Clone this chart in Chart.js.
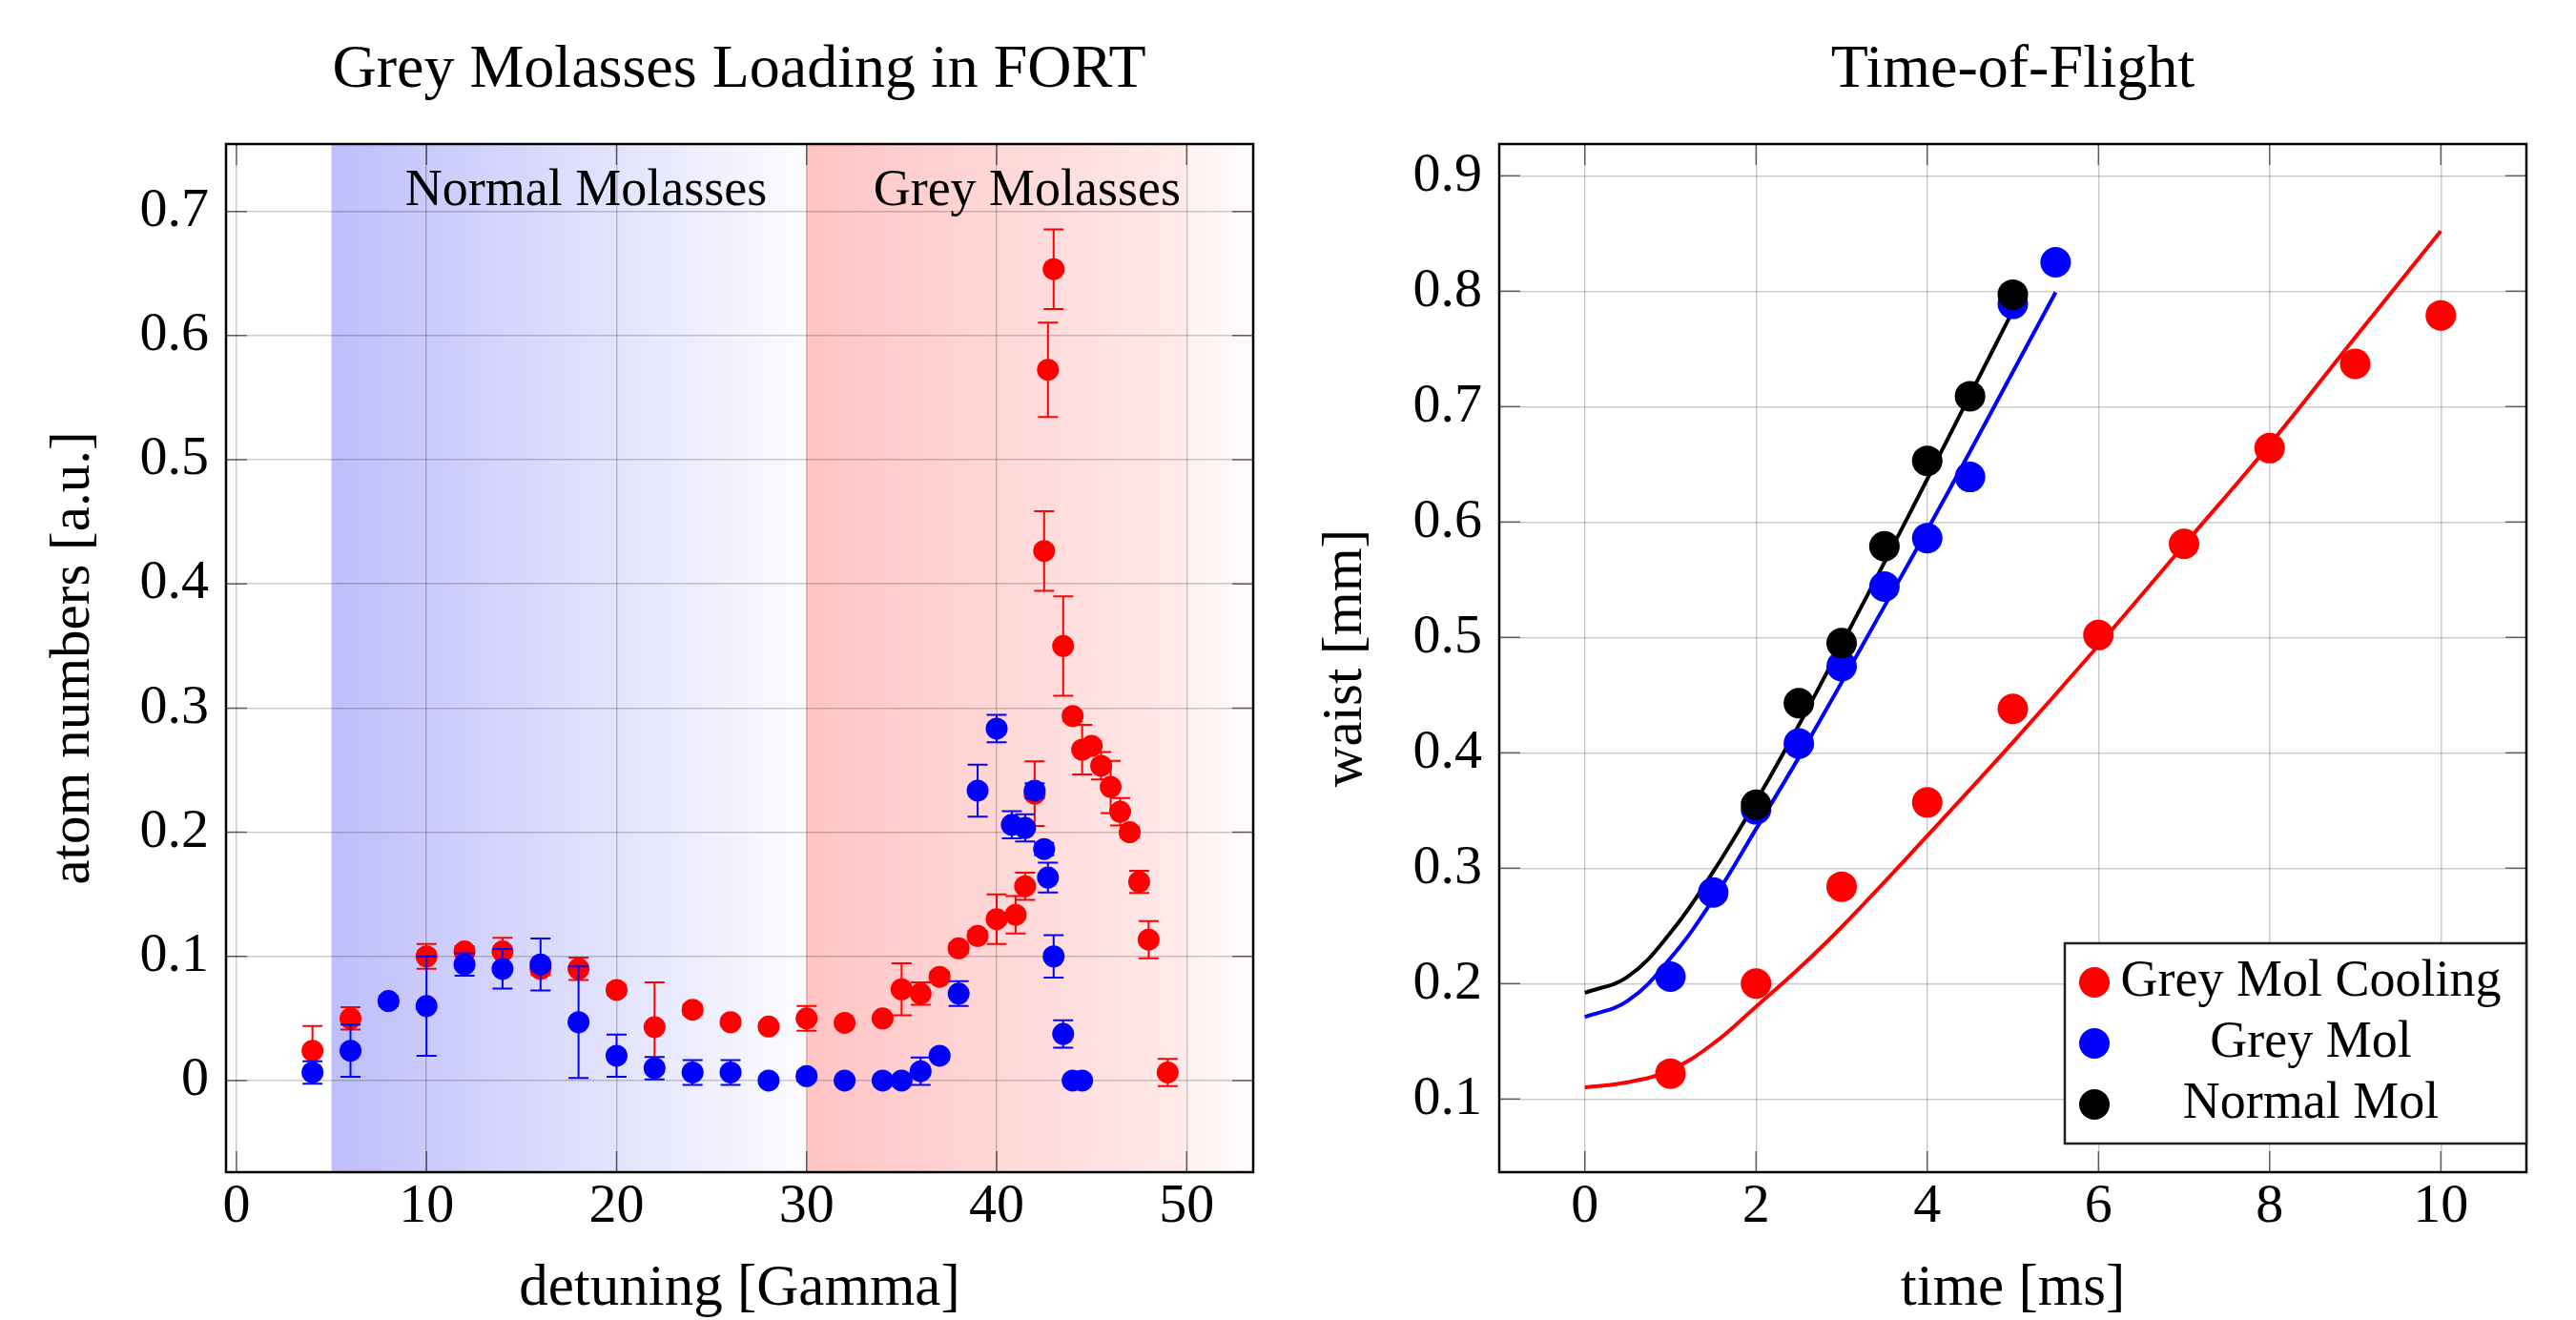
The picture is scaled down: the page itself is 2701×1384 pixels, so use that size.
<!DOCTYPE html>
<html><head><meta charset="utf-8">
<script src="https://cdn.jsdelivr.net/npm/chart.js@4.4.1/dist/chart.umd.min.js"></script>
<style>
html,body{margin:0;padding:0;background:#fff;overflow:hidden;width:2701px;height:1384px;position:relative;}
canvas{position:absolute;top:0;}
#c1{left:0;}
#c2{left:1300px;}
</style></head><body>
<canvas id="c1" width="1550" height="1384"></canvas>
<canvas id="c2" width="1621" height="1384"></canvas>
<script>
// ---------- Left chart data: Grey Molasses Loading in FORT ----------
const detuningRed = [4,6,10,12,14,16,18,20,22,24,26,28,30,32,34,35,36,37,38,39,40,41,41.5,42,42.5,42.7,43,43.5,44,44.5,45,45.5,46,46.5,47,47.5,48,49];
const atomsRed    = [0.024,0.050,0.100,0.104,0.104,0.090,0.090,0.073,0.043,0.057,0.047,0.0435,0.050,0.0465,0.050,0.0735,0.070,0.0835,0.1065,0.1165,0.130,0.1335,0.1565,0.231,0.4265,0.5725,0.6535,0.350,0.2935,0.2665,0.2695,0.2535,0.2365,0.2165,0.200,0.160,0.1135,0.0065];
const atomsRedErr = [0.020,0.009,0.010,0.004,0.011,0.005,0.009,0.004,0.036,0.004,0.003,0.003,0.010,0.003,0.003,0.021,0.009,0.004,0.004,0.004,0.020,0.015,0.011,0.026,0.032,0.038,0.032,0.040,0.004,0.020,0.004,0.011,0.021,0.011,0.004,0.009,0.015,0.011];

const detuningBlue = [4,6,8,10,12,14,16,18,20,22,24,26,28,30,32,34,35,36,37,38,39,40,40.8,41.5,42,42.5,42.7,43,43.5,44,44.5];
const atomsBlue    = [0.0065,0.024,0.064,0.060,0.0935,0.090,0.0935,0.047,0.020,0.010,0.0065,0.0065,0,0.0035,0,0,0,0.0075,0.020,0.070,0.2335,0.2835,0.206,0.2035,0.2335,0.1865,0.1635,0.100,0.0375,0,0];
const atomsBlueErr = [0.009,0.021,0.004,0.040,0.009,0.016,0.021,0.045,0.017,0.009,0.010,0.010,0.002,0.004,0.002,0.002,0.002,0.011,0.003,0.010,0.021,0.011,0.011,0.011,0.006,0.005,0.012,0.017,0.011,0.002,0.002];

const detuningTicks = [0,10,20,30,40,50];
const detuningTickLabels = ['0','10','20','30','40','50'];
const atomTicks = [0,0.1,0.2,0.3,0.4,0.5,0.6,0.7];
const atomTickLabels = ['0','0.1','0.2','0.3','0.4','0.5','0.6','0.7'];
const regionLabels = ['Normal Molasses','Grey Molasses'];
const regionLabelX = [18.4,41.6];
const regionLabelY = 0.716;
const shadeFrom = [5,30,50];
const shadeTo   = [30,50,53.5];

// ---------- Right chart data: Time-of-Flight ----------
const coolTime  = [1,2,3,4,5,6,7,8,9,10];
const coolWaist = [0.122,0.200,0.284,0.357,0.438,0.502,0.581,0.664,0.737,0.779];
const greyTime  = [1,1.5,2,2.5,3,3.5,4,4.5,5,5.5];
const greyWaist = [0.206,0.279,0.351,0.408,0.475,0.544,0.586,0.639,0.789,0.825];
const normalTime  = [2,2.5,3,3.5,4,4.5,5];
const normalWaist = [0.355,0.443,0.495,0.579,0.653,0.709,0.797];

const coolFitTime  = [0,0.5,1,1.5,2,2.5,3,4,5,6,7,8,9,10];
const coolFitWaist = [0.110,0.1145,0.125,0.148,0.180,0.213,0.249,0.328,0.409,0.493,0.580,0.667,0.760,0.852];
const greyFitTime  = [0,0.5,1,1.5,2,2.5,3,3.5,4,4.5,5,5.5];
const greyFitWaist = [0.171,0.185,0.222,0.273,0.334,0.396,0.461,0.527,0.593,0.661,0.730,0.799];
const normalFitTime  = [0,0.5,1,1.5,2,2.5,3,3.5,4,4.5,5];
const normalFitWaist = [0.192,0.206,0.244,0.297,0.358,0.424,0.494,0.565,0.637,0.710,0.783];

const timeTicks = [0,2,4,6,8,10];
const timeTickLabels = ['0','2','4','6','8','10'];
const waistTicks = [0.1,0.2,0.3,0.4,0.5,0.6,0.7,0.8,0.9];
const waistTickLabels = ['0.1','0.2','0.3','0.4','0.5','0.6','0.7','0.8','0.9'];
const legendNames = ['Grey Mol Cooling','Grey Mol','Normal Mol'];

// ---------- helpers & plugins ----------
const SERIF = "'Liberation Serif','Times New Roman',serif";
const GRID = 'rgba(0,0,0,0.2)';
const pts = (xs, ys) => xs.map((x, i) => ({x: x, y: ys[i]}));

const shadePlugin = {
  id: 'shade',
  beforeDraw(chart, args, opts) {
    if (!opts || !opts.bands) return;
    const {ctx, chartArea: a, scales: {x}} = chart;
    ctx.save();
    ctx.beginPath(); ctx.rect(a.left, a.top, a.width, a.height); ctx.clip();
    opts.bands.forEach(b => {
      const x0 = x.getPixelForValue(b.from), x1 = x.getPixelForValue(b.to);
      const g = ctx.createLinearGradient(x0, 0, x1, 0);
      g.addColorStop(0, b.c0); g.addColorStop(1, b.c1);
      ctx.fillStyle = g;
      ctx.fillRect(x0, a.top, x1 - x0, a.height);
    });
    ctx.restore();
  }
};

const errorBarPlugin = {
  id: 'errbars',
  beforeDatasetDraw(chart, args) {
    const ds = chart.data.datasets[args.index];
    if (!ds.errors) return;
    const {ctx, chartArea: a, scales: {x, y}} = chart;
    ctx.save();
    ctx.beginPath(); ctx.rect(a.left, a.top, a.width, a.height); ctx.clip();
    ctx.strokeStyle = ds.pointBackgroundColor; ctx.lineWidth = 2;
    ds.data.forEach((p, i) => {
      const e = ds.errors[i];
      if (!e) return;
      const px = x.getPixelForValue(p.x);
      const y0 = y.getPixelForValue(p.y - e), y1 = y.getPixelForValue(p.y + e);
      ctx.beginPath();
      ctx.moveTo(px, y0); ctx.lineTo(px, y1);
      ctx.moveTo(px - 10.5, y0); ctx.lineTo(px + 10.5, y0);
      ctx.moveTo(px - 10.5, y1); ctx.lineTo(px + 10.5, y1);
      ctx.stroke();
    });
    ctx.restore();
  }
};

const framePlugin = {
  id: 'frame',
  afterDatasetsDraw(chart) {
    const {ctx, chartArea: a, scales: {x, y}} = chart;
    ctx.save();
    ctx.strokeStyle = 'rgba(0,0,0,0.55)'; ctx.lineWidth = 1.5;
    const tl = 22;
    ctx.beginPath();
    x.ticks.forEach(t => { const p = x.getPixelForValue(t.value);
      ctx.moveTo(p, a.bottom); ctx.lineTo(p, a.bottom - tl);
      ctx.moveTo(p, a.top); ctx.lineTo(p, a.top + tl); });
    y.ticks.forEach(t => { const p = y.getPixelForValue(t.value);
      ctx.moveTo(a.left, p); ctx.lineTo(a.left + tl, p);
      ctx.moveTo(a.right, p); ctx.lineTo(a.right - tl, p); });
    ctx.stroke();
    ctx.strokeStyle = '#000'; ctx.lineWidth = 2.5;
    ctx.strokeRect(a.left, a.top, a.width, a.height);
    ctx.restore();
  }
};

const regionTextPlugin = {
  id: 'regionText',
  afterDatasetsDraw(chart, args, opts) {
    if (!opts || !opts.labels) return;
    const {ctx, scales: {x, y}} = chart;
    ctx.save();
    ctx.font = '54px ' + SERIF; ctx.fillStyle = '#000';
    ctx.textAlign = 'center'; ctx.textBaseline = 'middle';
    opts.labels.forEach((t, i) => ctx.fillText(t, x.getPixelForValue(opts.xs[i]), y.getPixelForValue(opts.y)));
    ctx.restore();
  }
};

const boxLegendPlugin = {
  id: 'boxLegend',
  afterDraw(chart, args, opts) {
    if (!opts || !opts.show) return;
    const {ctx, chartArea: a} = chart;
    const items = chart.data.datasets.filter(d => d.inLegend);
    const w = 484, h = 210, left = a.right - w, top = a.bottom - 30 - h;
    ctx.save();
    ctx.fillStyle = '#fff'; ctx.fillRect(left, top, w, h);
    ctx.strokeStyle = '#222'; ctx.lineWidth = 2.5; ctx.strokeRect(left, top, w, h);
    ctx.font = '54px ' + SERIF; ctx.textAlign = 'center'; ctx.textBaseline = 'middle';
    items.forEach((d, i) => {
      const cy = top + 41 + 64 * i;
      ctx.beginPath(); ctx.arc(left + 31, cy, 16, 0, 2 * Math.PI);
      ctx.fillStyle = d.pointBackgroundColor; ctx.fill();
      ctx.fillStyle = '#000'; ctx.fillText(d.label, left + 258, cy);
    });
    ctx.restore();
  }
};

function axisX(min, max, ticks, labels, title) {
  return {
    type: 'linear', position: 'bottom', min: min, max: max,
    afterBuildTicks: s => { s.ticks = ticks.map(v => ({value: v})); },
    grid: {color: GRID, lineWidth: 1.5, drawTicks: false},
    border: {display: false},
    ticks: {font: {family: SERIF, size: 58}, color: '#000', padding: 2, maxRotation: 0, autoSkip: false,
            callback: (v, i) => labels[i]},
    title: {display: true, text: title, color: '#000', font: {family: SERIF, size: 61, lineHeight: 1}, padding: {top: 0, bottom: 2}},
    afterFit: s => { s.height = 155; }
  };
}
function axisY(min, max, ticks, labels, title, width, titlePad) {
  return {
    type: 'linear', position: 'left', min: min, max: max,
    afterBuildTicks: s => { s.ticks = ticks.map(v => ({value: v})); },
    grid: {color: GRID, lineWidth: 1.5, drawTicks: false},
    border: {display: false},
    ticks: {font: {family: SERIF, size: 58}, color: '#000', padding: 18, autoSkip: false,
            callback: (v, i) => labels[i]},
    title: {display: true, text: title, color: '#000', font: {family: SERIF, size: 59, lineHeight: 1}, padding: {top: titlePad, bottom: 0}},
    afterFit: s => { s.width = width; }
  };
}
function padAxis(width) {
  return {type: 'linear', position: 'right', display: true, ticks: {display: false},
          grid: {display: false}, border: {display: false}, afterFit: s => { s.width = width; }};
}
function titleOpts(text) {
  return {display: true, text: text, color: '#000',
          font: {family: SERIF, size: 64, weight: 'normal', lineHeight: 1.2},
          padding: {top: 36, bottom: 38.2}};
}

// ---------- Left chart ----------
new Chart(document.getElementById('c1'), {
  type: 'scatter',
  data: {datasets: [
    {label: 'Grey Molasses', data: pts(detuningBlue, atomsBlue), errors: atomsBlueErr,
     pointBackgroundColor: '#0000ff', pointBorderColor: '#0000ff', backgroundColor: '#0000ff', borderColor: '#0000ff',
     pointRadius: 11.5, pointBorderWidth: 0, showLine: false},
    {label: 'Grey Molasses Cooling', data: pts(detuningRed, atomsRed), errors: atomsRedErr,
     pointBackgroundColor: '#ff0000', pointBorderColor: '#ff0000', backgroundColor: '#ff0000', borderColor: '#ff0000',
     pointRadius: 11.5, pointBorderWidth: 0, showLine: false}
  ]},
  options: {
    responsive: false, animation: false, devicePixelRatio: 1,
    layout: {padding: 0},
    scales: {
      x: axisX(-0.55, 53.5, detuningTicks, detuningTickLabels, 'detuning [Gamma]'),
      y: axisY(-0.0738, 0.7543, atomTicks, atomTickLabels, 'atom numbers [a.u.]', 237, 48),
      pad: padAxis(236)
    },
    plugins: {
      legend: {display: false}, tooltip: {enabled: false},
      title: titleOpts('Grey Molasses Loading in FORT'),
      shade: {bands: [
        {from: shadeFrom[0], to: shadeTo[0], c0: 'rgb(190,190,252)', c1: 'rgb(252,252,255)'},
        {from: shadeFrom[1], to: shadeTo[1], c0: 'rgb(255,196,196)', c1: 'rgb(255,234,234)'},
        {from: shadeFrom[2], to: shadeTo[2], c0: 'rgb(255,242,242)', c1: 'rgb(255,251,251)'}
      ]},
      regionText: {labels: regionLabels, xs: regionLabelX, y: regionLabelY}
    }
  },
  plugins: [shadePlugin, errorBarPlugin, framePlugin, regionTextPlugin]
});

// ---------- Right chart ----------
const fitStyle = {showLine: true, fill: false, borderWidth: 4, pointRadius: 0, tension: 0.4, cubicInterpolationMode: 'default'};
new Chart(document.getElementById('c2'), {
  type: 'scatter',
  data: {datasets: [
    {label: legendNames[0], inLegend: true, data: pts(coolTime, coolWaist), order: 2,
     pointBackgroundColor: '#ff0000', pointBorderColor: '#ff0000', backgroundColor: '#ff0000', borderColor: '#ff0000',
     pointRadius: 16, pointBorderWidth: 0, showLine: false},
    {label: legendNames[1], inLegend: true, data: pts(greyTime, greyWaist), order: 1,
     pointBackgroundColor: '#0000ff', pointBorderColor: '#0000ff', backgroundColor: '#0000ff', borderColor: '#0000ff',
     pointRadius: 16, pointBorderWidth: 0, showLine: false},
    {label: legendNames[2], inLegend: true, data: pts(normalTime, normalWaist), order: 0,
     pointBackgroundColor: '#000000', pointBorderColor: '#000000', backgroundColor: '#000000', borderColor: '#000000',
     pointRadius: 16, pointBorderWidth: 0, showLine: false},
    Object.assign({label: 'fit cooling', data: pts(coolFitTime, coolFitWaist), order: 5, borderColor: '#ff0000'}, fitStyle),
    Object.assign({label: 'fit grey', data: pts(greyFitTime, greyFitWaist), order: 4, borderColor: '#0000ff'}, fitStyle),
    Object.assign({label: 'fit normal', data: pts(normalFitTime, normalFitWaist), order: 3, borderColor: '#000000'}, fitStyle)
  ]},
  options: {
    responsive: false, animation: false, devicePixelRatio: 1,
    layout: {padding: 0},
    scales: {
      x: axisX(-1, 11, timeTicks, timeTickLabels, 'time [ms]'),
      y: axisY(0.0366, 0.9275, waistTicks, waistTickLabels, 'waist [mm]', 272, 82),
      pad: padAxis(272)
    },
    plugins: {
      legend: {display: false}, tooltip: {enabled: false},
      title: titleOpts('Time-of-Flight'),
      boxLegend: {show: true}
    }
  },
  plugins: [framePlugin, boxLegendPlugin]
});
</script>
</body></html>
